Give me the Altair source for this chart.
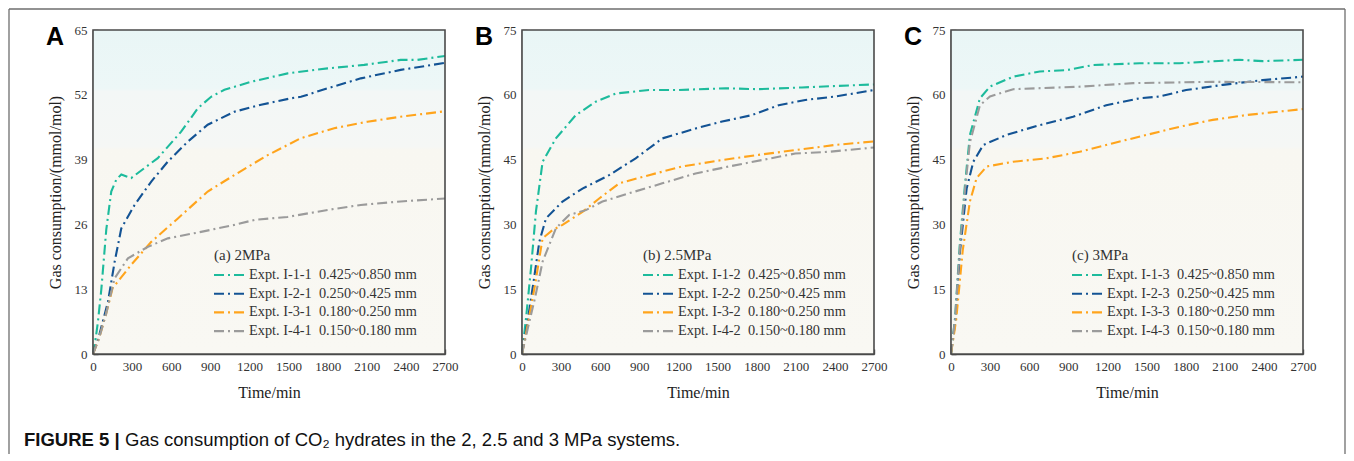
import altair as alt
import pandas as pd

# ---------------- data ----------------
# Panel A (2 MPa)
tA1 = [0, 20, 38, 64, 102, 140, 179, 217, 293, 497, 676, 804, 906, 1008, 1212, 1493, 1799, 2080, 2360, 2488, 2700]
vA1 = [0, 3, 6.5, 13, 25, 32.6, 35, 36, 35.3, 39.3, 44.6, 49.3, 51.6, 53, 54.6, 56.3, 57.3, 58, 59, 59, 59.8]
tA2 = [0, 40, 80, 115, 166, 217, 319, 447, 574, 727, 880, 1084, 1289, 1519, 1595, 1799, 2054, 2360, 2700]
vA2 = [0, 3, 7, 10.5, 18.5, 25.2, 29.9, 34.6, 38.6, 42.6, 46, 48.6, 50, 51.3, 51.6, 53.3, 55.3, 57, 58.4]
tA3 = [0, 45, 100, 150, 293, 447, 651, 880, 1084, 1340, 1595, 1850, 2105, 2360, 2700]
vA3 = [0, 3, 8, 13.2, 17.9, 22.5, 27.2, 32.6, 35.9, 39.9, 43.3, 45.3, 46.6, 47.6, 48.7]
tA4 = [0, 45, 100, 166, 268, 421, 574, 829, 1084, 1238, 1493, 1799, 2054, 2360, 2700]
vA4 = [0, 3, 8, 15.2, 19.2, 21.5, 23.2, 24.5, 25.9, 26.9, 27.5, 28.9, 29.9, 30.6, 31.2]

# Panel B (2.5 MPa)
tB1 = [0, 31, 69, 107, 158, 260, 413, 566, 719, 974, 1178, 1560, 1815, 2147, 2700]
vB1 = [0, 8.3, 19.8, 33, 44.5, 49.9, 55.3, 58.4, 60.3, 61.1, 61.1, 61.5, 61.3, 61.7, 62.4]
tB2 = [0, 40, 90, 133, 184, 311, 464, 668, 872, 1076, 1331, 1535, 1764, 1969, 2173, 2402, 2700]
vB2 = [0, 7, 17, 26, 31.4, 35.3, 38.3, 41.4, 45.3, 49.9, 52.2, 53.8, 55.3, 57.6, 58.8, 59.6, 61.1]
tB3 = [0, 45, 100, 158, 235, 311, 464, 592, 745, 974, 1229, 1535, 1815, 2096, 2402, 2700]
vB3 = [0, 7, 16, 26.8, 28.7, 29.9, 32.9, 36, 39.5, 41.4, 43.4, 44.9, 46.1, 47.2, 48.4, 49.2]
tB4 = [0, 45, 100, 158, 260, 362, 490, 617, 821, 1076, 1331, 1586, 1841, 2096, 2351, 2700]
vB4 = [0, 6, 13, 21.4, 29.1, 32.2, 33.3, 35.3, 37.2, 39.5, 41.8, 43.4, 44.9, 46.4, 46.8, 47.8]

# Panel C (3 MPa)
tC1 = [0, 31, 69, 107, 145, 222, 299, 477, 681, 885, 1090, 1447, 1753, 2212, 2391, 2700]
vC1 = [0, 8.3, 26, 39.1, 50.7, 59.2, 61.9, 64.2, 65.4, 65.7, 66.9, 67.3, 67.3, 68.1, 67.8, 68.1]
tC2 = [0, 35, 69, 120, 171, 248, 426, 681, 936, 1191, 1447, 1600, 1804, 2085, 2391, 2700]
vC2 = [0, 8, 23.7, 38.3, 44.5, 48.4, 50.7, 53, 54.9, 57.6, 59.2, 59.6, 61.1, 62.3, 63.4, 64.2]
tC3 = [0, 40, 90, 145, 196, 273, 477, 732, 987, 1243, 1498, 1753, 2008, 2263, 2700]
vC3 = [0, 8, 24, 35.3, 40.7, 43.4, 44.5, 45.3, 46.8, 48.8, 50.7, 52.6, 54.2, 55.3, 56.7]
tC4 = [0, 31, 69, 107, 145, 222, 299, 477, 1000, 1396, 2008, 2700]
vC4 = [0, 8, 25, 38, 49, 57.6, 59.6, 61.3, 61.9, 62.7, 63, 62.9]

namesA = ["Expt. I-1-1", "Expt. I-2-1", "Expt. I-3-1", "Expt. I-4-1"]
namesB = ["Expt. I-1-2", "Expt. I-2-2", "Expt. I-3-2", "Expt. I-4-2"]
namesC = ["Expt. I-1-3", "Expt. I-2-3", "Expt. I-3-3", "Expt. I-4-3"]
sizes = ["0.425~0.850 mm", "0.250~0.425 mm", "0.180~0.250 mm", "0.150~0.180 mm"]
colors = ["#1dbb9c", "#135394", "#ffa41c", "#9b9b9b"]

x_ticks = [0, 300, 600, 900, 1200, 1500, 1800, 2100, 2400, 2700]
y_ticks_A = [0, 13, 26, 39, 52, 65]
y_ticks_BC = [0, 15, 30, 45, 60, 75]

caption_bold = "FIGURE 5 |"
caption_rest = "Gas consumption of CO\u2082 hydrates in the 2, 2.5 and 3 MPa systems."

# ---------------- layout constants ----------------
W, H = 352, 324
SERIF = "Liberation Serif"
SANS = "Liberation Sans"
DASH = [10, 4, 2, 4]
dummy = pd.DataFrame({"d": [0]})

grad = alt.Gradient(
    gradient="linear",
    stops=[
        alt.GradientStop(color="#e9f6f6", offset=0),
        alt.GradientStop(color="#edf7f7", offset=0.18),
        alt.GradientStop(color="#f3f7f6", offset=0.19),
        alt.GradientStop(color="#f5f7f5", offset=0.36),
        alt.GradientStop(color="#f8f7f1", offset=0.37),
        alt.GradientStop(color="#f9f8f3", offset=1),
    ],
    x1=0, x2=0, y1=0, y2=1,
)


def panel(letter, head, names, series, ymax, yticks, extra=None):
    rows = []
    for name, (ts, vs) in zip(names, series):
        for t, v in zip(ts, vs):
            rows.append({"s": name, "t": t, "v": v})
    df = pd.DataFrame(rows)

    bg = alt.Chart(dummy).mark_rect(fill=grad).encode(
        x=alt.value(0), x2=alt.value(W), y=alt.value(0), y2=alt.value(H)
    )
    lines = alt.Chart(df).mark_line(strokeDash=DASH, strokeWidth=2.1).encode(
        x=alt.X("t:Q", scale=alt.Scale(domain=[0, 2700], nice=False),
                axis=alt.Axis(values=x_ticks, title="Time/min", labelAngle=0,
                              format="d", labelFlush=False)),
        y=alt.Y("v:Q", scale=alt.Scale(domain=[0, ymax], nice=False),
                axis=alt.Axis(values=yticks, title="Gas consumption/(mmol/mol)",
                              format="d", labelFlush=False)),
        color=alt.Color("s:N", scale=alt.Scale(domain=names, range=colors), legend=None),
    )
    border = alt.Chart(dummy).mark_rect(filled=False, stroke="#4a4a4a", strokeWidth=1.6).encode(
        x=alt.value(0), x2=alt.value(W), y=alt.value(0), y2=alt.value(H)
    )
    letter_t = alt.Chart(dummy).mark_text(
        align="left", baseline="alphabetic", font=SANS, fontSize=25, fontWeight="bold", color="#000"
    ).encode(x=alt.value(-47), y=alt.value(15), text=alt.value(letter))

    lx, ly0, dy = 121, 245, 18.7
    leg = [alt.Chart(dummy).mark_text(align="left", baseline="middle", font=SERIF, fontSize=15, color="#333")
           .encode(x=alt.value(lx), y=alt.value(225), text=alt.value(head))]
    for i, (nm, sz, col) in enumerate(zip(names, sizes, colors)):
        yy = ly0 + dy * i
        leg.append(alt.Chart(dummy).mark_rule(color=col, strokeWidth=2.1, strokeDash=DASH)
                   .encode(x=alt.value(lx), x2=alt.value(lx + 32), y=alt.value(yy)))
        leg.append(alt.Chart(dummy).mark_text(align="left", baseline="middle", font=SERIF, fontSize=14.3, color="#333")
                   .encode(x=alt.value(lx + 35), y=alt.value(yy),
                           text=alt.value(nm + "\u00a0\u00a0" + sz)))
    layers = [bg, lines, border, letter_t] + leg
    if extra:
        layers += extra
    return alt.layer(*layers).properties(width=W, height=H)


# frame and caption (drawn relative to panel A)
frame_col = "#6e6e6e"
extra = [
    alt.Chart(dummy).mark_rule(color=frame_col, strokeWidth=1.3).encode(
        x=alt.value(-84), x2=alt.value(1252), y=alt.value(-21)),
    alt.Chart(dummy).mark_rule(color=frame_col, strokeWidth=1.3).encode(
        x=alt.value(-84), y=alt.value(-21), y2=alt.value(424)),
    alt.Chart(dummy).mark_rule(color=frame_col, strokeWidth=1.3).encode(
        x=alt.value(1252), y=alt.value(-21), y2=alt.value(424)),
    alt.Chart(dummy).mark_text(align="left", baseline="alphabetic", font=SANS, fontSize=18.5,
                               fontWeight="bold", color="#111").encode(
        x=alt.value(-69), y=alt.value(416), text=alt.value(caption_bold)),
    alt.Chart(dummy).mark_text(align="left", baseline="alphabetic", font=SANS, fontSize=18.5,
                               color="#111").encode(
        x=alt.value(32), y=alt.value(416), text=alt.value(caption_rest)),
]

pA = panel("A", "(a) 2MPa", namesA, [(tA1, vA1), (tA2, vA2), (tA3, vA3), (tA4, vA4)], 65, y_ticks_A, extra)
pB = panel("B", "(b) 2.5MPa", namesB, [(tB1, vB1), (tB2, vB2), (tB3, vB3), (tB4, vB4)], 75, y_ticks_BC)
pC = panel("C", "(c) 3MPa", namesC, [(tC1, vC1), (tC2, vC2), (tC3, vC3), (tC4, vC4)], 75, y_ticks_BC)

chart = (
    alt.hconcat(pA, pB, pC, spacing=77, bounds="flush")
    .resolve_scale(color="independent", x="independent", y="independent")
    .properties(padding=0, background="white")
    .configure_view(stroke=None)
    .configure_axis(
        grid=False,
        labelFont=SERIF, labelFontSize=13, labelColor="#333",
        titleFont=SERIF, titleFontSize=16, titleFontWeight="normal", titleColor="#222",
        domainColor="#4a4a4a", domainWidth=1.6,
        tickColor="#4a4a4a", tickWidth=1.4, tickSize={"expr": "-5"},
        labelPadding=11, zindex=1,
    )
    .configure_axisY(titlePadding=11)
    .configure_axisX(titlePadding=11)
)

chart.save("out.html", embed_options={"renderer": "svg", "actions": False})
